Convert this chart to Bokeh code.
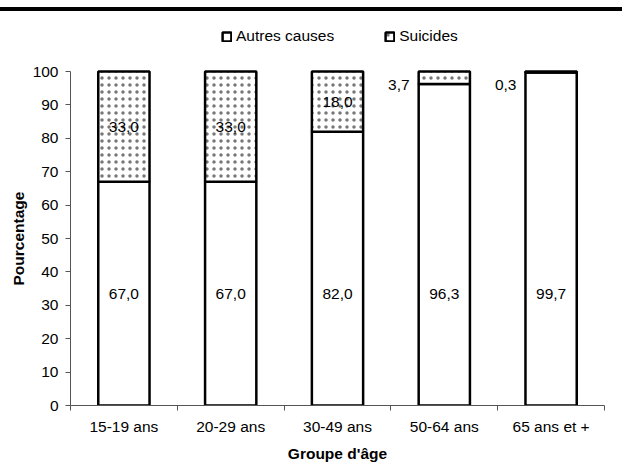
from bokeh.plotting import figure
from bokeh.models import (ColumnDataSource, Range1d, FixedTicker, Div, LabelSet,
                          Legend, Title)
from bokeh.core.properties import value
from bokeh.layouts import column
from bokeh.embed import file_html
from bokeh.resources import INLINE

# Répartition des décès par groupe d'âge (%)
categories = ["15-19 ans", "20-29 ans", "30-49 ans", "50-64 ans", "65 ans et +"]
autres = [67.0, 67.0, 82.0, 96.3, 99.7]
suicides = [33.0, 33.0, 18.0, 3.7, 0.3]
series_names = ["Autres causes", "Suicides"]
y_ticks = [0, 10, 20, 30, 40, 50, 60, 70, 80, 90, 100]

FONT = "Liberation Sans"
FSIZE = "15.5px"

def fr(v):
    return f"{v:.1f}".replace(".", ",")

xc = [i + 0.5 for i in range(len(categories))]
src = ColumnDataSource(dict(x=xc, autres=autres, suicides=suicides))

# La zone de tracé monte au-dessus de 100 pour accueillir la légende
p = figure(frame_width=534, frame_height=384, output_backend="svg",
           toolbar_location=None,
           x_range=Range1d(0, len(categories)), y_range=Range1d(0, 115),
           min_border_left=70, min_border_right=18, min_border_top=10,
           min_border_bottom=48)
p.outline_line_color = None
p.xgrid.grid_line_color = None
p.ygrid.grid_line_color = None

bars = p.vbar_stack(["autres", "suicides"], x="x", width=0.48, source=src,
                    fill_color="white", line_color="black", line_width=2.5,
                    hatch_pattern=[" ", "."], hatch_color="#777777",
                    hatch_scale=7, hatch_weight=1)

# Étiquettes de valeurs
low = ColumnDataSource(dict(x=xc, y=[33.5] * len(xc), t=[fr(v) for v in autres]))
p.add_layout(LabelSet(x="x", y="y", text="t", source=low, text_align="center",
                      text_baseline="middle", text_font=value(FONT),
                      text_font_size=value(FSIZE), text_color="black"))

in_x, in_y, in_t, out_x, out_y, out_t = [], [], [], [], [], []
for x, a, s in zip(xc, autres, suicides):
    if s >= 10:
        in_x.append(x); in_y.append(a + s / 2); in_t.append(fr(s))
    else:
        out_x.append(x - 0.24); out_y.append(96); out_t.append(fr(s))
p.add_layout(LabelSet(x="x", y="y", text="t",
                      source=ColumnDataSource(dict(x=in_x, y=in_y, t=in_t)),
                      text_align="center", text_baseline="middle",
                      text_font=value(FONT), text_font_size=value(FSIZE),
                      text_color="black"))
p.add_layout(LabelSet(x="x", y="y", text="t", x_offset=-9,
                      source=ColumnDataSource(dict(x=out_x, y=out_y, t=out_t)),
                      text_align="right", text_baseline="middle",
                      text_font=value(FONT), text_font_size=value(FSIZE),
                      text_color="black"))

# Axe X : libellés au centre, graduations entre les groupes
xa = p.xaxis[0]
xa.ticker = FixedTicker(ticks=xc, minor_ticks=list(range(len(categories) + 1)))
xa.major_label_overrides = {x: c for x, c in zip(xc, categories)}
xa.major_tick_out = 0
xa.major_tick_in = 0
xa.minor_tick_out = 5
xa.minor_tick_in = 0
xa.minor_tick_line_color = "#555555"
xa.axis_line_color = "#555555"
xa.major_label_standoff = 7
xa.axis_label = "Groupe d'âge"
xa.axis_label_standoff = 7

ya = p.yaxis[0]
ya.ticker = FixedTicker(ticks=y_ticks)
ya.bounds = (0, 100)
ya.minor_tick_line_color = None
ya.major_tick_out = 5
ya.major_tick_in = 0
ya.major_tick_line_color = "#555555"
ya.axis_line_color = "#555555"
ya.major_label_standoff = 7

for ax in (xa, ya):
    ax.major_label_text_font = FONT
    ax.major_label_text_font_size = FSIZE
    ax.major_label_text_color = "black"
    ax.axis_label_text_font = FONT
    ax.axis_label_text_font_size = FSIZE
    ax.axis_label_text_font_style = "bold"
    ax.axis_label_text_color = "black"

# Titre de l'axe Y, centré sur la plage 0-100
p.add_layout(Title(text="Pourcentage", align="left", offset=120, standoff=6,
                   text_font=FONT, text_font_size=FSIZE,
                   text_font_style="bold", text_color="black"), "left")

lg = Legend(items=[(n, [r]) for n, r in zip(series_names, bars)],
            orientation="horizontal", location=(151, 359),
            border_line_color=None, background_fill_alpha=0,
            padding=0, margin=0, spacing=50, glyph_width=11, glyph_height=11,
            label_standoff=4, label_text_font=FONT, label_text_font_size=FSIZE,
            label_text_color="black", label_height=20)
p.add_layout(lg, "center")

top_rule = Div(width=622, height=4, margin=(7, 0, 0, 0),
               styles={"background-color": "black"})

layout = column(top_rule, p, spacing=0)
open("out.html", "w").write(file_html(layout, INLINE))
